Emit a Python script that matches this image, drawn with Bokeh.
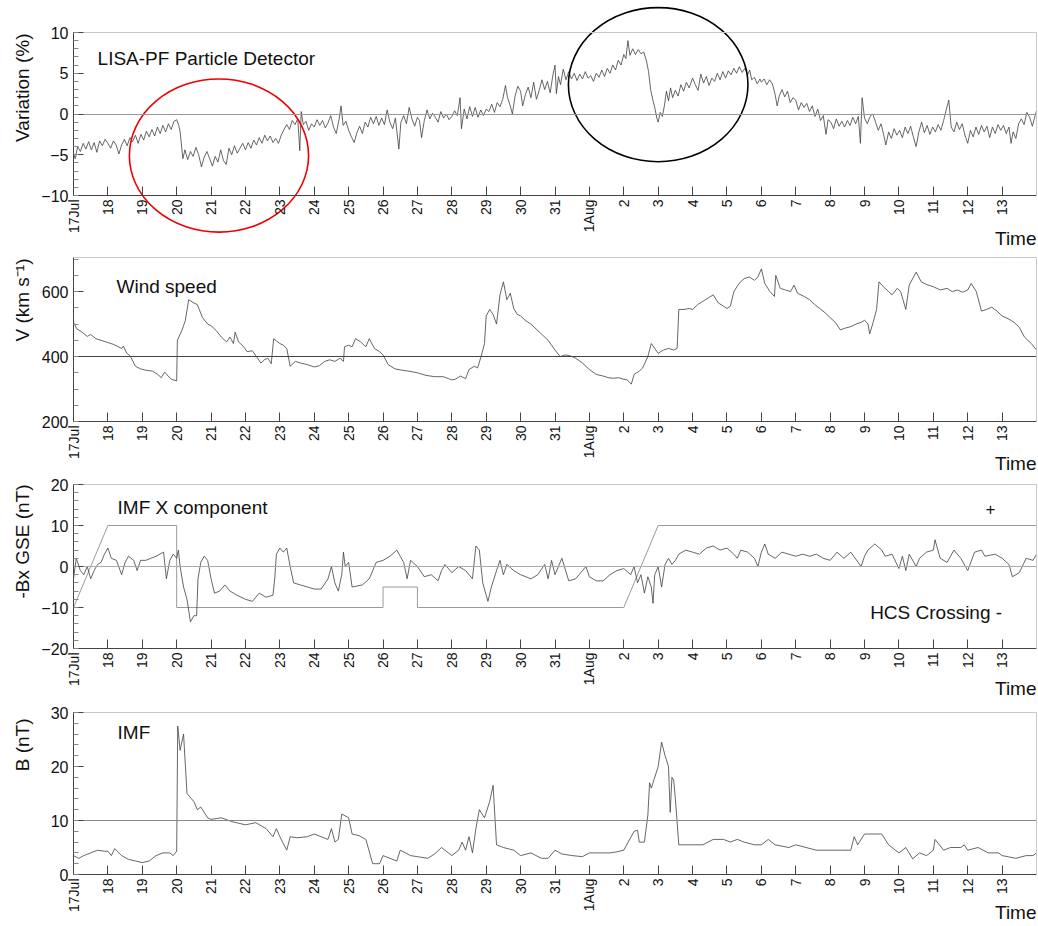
import math
from bokeh.plotting import figure
from bokeh.layouts import column
from bokeh.models import Range1d, FixedTicker, SingleIntervalTicker, Label, LinearAxis
from bokeh.embed import file_html
from bokeh.resources import INLINE

FONT = "Liberation Sans"

# ---------------- data (days since 17 Jul) ----------------
day_ticks = list(range(28))
day_labels = ["17Jul"] + [str(d) for d in range(18, 32)] + ["1Aug"] + [str(d) for d in range(2, 14)]

var_t = [0.00,0.05,0.12,0.20,0.28,0.36,0.44,0.52,0.60,0.68,0.76,0.84,0.92,1.00,1.08,1.16,1.24,1.32,1.40,1.48,
         1.56,1.64,1.72,1.80,1.88,1.96,2.04,2.12,2.20,2.28,2.36,2.44,2.52,2.60,2.68,2.76,2.84,2.92,3.00,3.06,
         3.10,3.14,3.18,3.24,3.32,3.40,3.48,3.56,3.64,3.72,3.80,3.88,3.96,4.04,4.12,4.20,4.28,4.36,4.44,4.52,
         4.60,4.68,4.76,4.84,4.92,5.00,5.08,5.16,5.24,5.32,5.40,5.48,5.56,5.64,5.72,5.80,5.88,5.96,6.04,6.12,
         6.20,6.28,6.36,6.44,6.52,6.58,6.62,6.68,6.76,6.84,6.92,7.00,7.08,7.16,7.24,7.32,7.40,7.48,7.56,7.64,
         7.72,7.78,7.84,7.92,8.00,8.08,8.16,8.24,8.32,8.40,8.48,8.56,8.64,8.72,8.80,8.88,8.96,9.04,9.12,9.20,
         9.28,9.36,9.46,9.52,9.60,9.68,9.76,9.84,9.92,10.00,10.06,10.12,10.20,10.28,10.36,10.44,10.52,10.60,10.68,10.76,
         10.84,10.92,11.00,11.08,11.16,11.24,11.28,11.36,11.44,11.52,11.60,11.68,11.76,11.84,11.92,12.00,12.08,12.16,12.24,12.32,
         12.40,12.48,12.56,12.62,12.70,12.76,12.84,12.92,13.00,13.06,13.14,13.22,13.30,13.38,13.46,13.54,13.62,13.70,13.78,13.86,
         13.94,14.00,14.04,14.10,14.16,14.24,14.32,14.40,14.48,14.56,14.64,14.72,14.80,14.88,14.96,15.04,15.12,15.20,15.28,15.36,
         15.44,15.52,15.60,15.68,15.76,15.84,15.92,16.00,16.06,16.12,16.18,16.26,16.34,16.42,16.50,16.58,16.66,16.72,16.78,16.84,
         16.90,16.96,17.00,17.06,17.12,17.18,17.24,17.30,17.36,17.42,17.50,17.58,17.66,17.74,17.82,17.90,18.00,18.08,18.16,18.24,
         18.32,18.40,18.48,18.56,18.64,18.72,18.80,18.88,18.96,19.04,19.12,19.20,19.28,19.36,19.44,19.52,19.60,19.66,19.72,19.80,
         19.88,19.96,20.00,20.08,20.16,20.24,20.32,20.40,20.46,20.52,20.60,20.68,20.76,20.84,20.92,21.00,21.08,21.16,21.24,21.32,
         21.40,21.48,21.56,21.64,21.72,21.80,21.88,21.94,22.02,22.10,22.18,22.26,22.34,22.42,22.50,22.58,22.66,22.74,22.82,22.88,
         22.93,23.00,23.08,23.16,23.24,23.32,23.40,23.48,23.56,23.62,23.70,23.78,23.86,23.94,24.02,24.10,24.18,24.26,24.34,24.42,
         24.50,24.58,24.66,24.74,24.82,24.90,24.98,25.06,25.14,25.22,25.30,25.38,25.45,25.52,25.60,25.68,25.76,25.84,25.92,26.00,
         26.08,26.16,26.24,26.32,26.40,26.48,26.56,26.64,26.72,26.80,26.88,26.96,27.04,27.12,27.20,27.26,27.32,27.40,27.48,27.56,
         27.64,27.72,27.80,27.88,27.96,28.00]
var_v = [-4.8,-5.5,-4.0,-4.6,-3.6,-4.3,-3.4,-4.4,-3.5,-4.7,-3.3,-3.9,-3.1,-3.6,-4.2,-3.3,-3.8,-4.9,-3.8,-3.1,
         -3.9,-2.9,-3.4,-2.6,-3.6,-2.5,-3.2,-2.1,-2.8,-1.9,-2.7,-1.6,-2.4,-1.4,-2.2,-1.2,-1.9,-0.9,-0.7,-1.4,
         -2.2,-3.8,-5.5,-4.4,-5.6,-4.6,-5.2,-4.1,-5.0,-6.5,-5.3,-4.6,-5.5,-6.4,-5.2,-5.9,-4.4,-5.7,-6.2,-4.2,
         -5.0,-3.9,-4.8,-4.2,-3.6,-4.4,-3.5,-4.2,-3.2,-3.8,-2.9,-3.6,-2.6,-3.3,-2.7,-3.5,-3.0,-3.6,-2.6,-1.9,
         -1.3,-1.9,-0.8,-1.3,-0.6,-4.5,0.3,-1.3,-0.9,-2.0,-1.2,-1.6,-0.7,-1.4,-0.8,-1.7,-1.1,-0.2,-1.6,-2.4,
         -0.7,1.0,-1.4,-0.9,-2.0,-2.8,-3.5,-2.3,-1.5,-2.4,-1.0,-1.6,-0.4,-1.2,-0.3,-1.4,-0.5,-1.3,0.5,-1.0,
         -1.8,-0.5,-4.3,-1.0,-0.2,-1.2,0.8,-0.6,-1.5,-0.4,-0.8,-2.9,-0.8,0.5,-0.6,0.1,-0.4,-1.0,0.3,-0.5,
         0.0,-0.7,-0.3,0.4,-0.2,2.0,-1.8,0.6,-0.6,0.9,-0.3,0.8,-0.4,0.5,-0.2,0.6,0.3,1.2,0.2,1.4,
         0.9,1.8,3.5,2.0,1.0,0.0,2.2,3.4,2.8,1.0,2.4,3.3,2.0,3.9,1.8,2.9,4.2,3.0,4.0,2.6,
         4.8,6.0,2.5,4.6,3.6,5.5,4.2,5.2,4.3,5.0,4.1,4.9,4.3,5.2,4.4,4.7,4.0,5.0,4.5,5.4,
         4.6,5.6,5.0,6.0,5.4,6.6,6.0,7.3,6.8,9.0,7.2,8.0,7.3,7.9,7.4,7.6,6.5,5.2,3.0,1.8,
         0.8,-0.5,-1.0,0.2,-0.3,1.0,2.8,1.6,3.2,2.0,2.9,2.2,3.6,2.8,3.9,3.2,4.4,3.6,2.9,4.9,
         3.8,4.6,3.5,4.4,4.0,5.0,4.2,5.2,4.4,5.3,4.8,5.6,5.0,5.8,5.1,5.6,4.8,5.4,4.2,4.5,
         3.7,4.3,3.9,4.3,3.6,4.2,3.7,2.4,1.0,2.2,3.0,2.1,2.8,1.4,2.0,1.7,0.5,1.4,0.8,1.3,
         0.3,1.0,-0.3,0.6,-0.8,-0.2,-2.5,-0.7,-1.0,-1.8,-0.6,-1.5,-0.9,-1.6,-0.8,-1.4,-0.4,-1.2,-0.3,-3.6,
         2.0,-0.5,-1.2,-0.3,0.0,-1.0,-2.0,-1.2,-2.6,-3.8,-2.2,-3.0,-1.8,-2.6,-2.0,-2.9,-1.6,-2.4,-1.5,-2.8,
         -4.0,-2.2,-1.0,-2.3,-1.4,-2.5,-1.6,-2.2,-1.3,-2.0,-0.8,0.6,1.7,-1.6,-2.2,-1.0,-1.9,-1.2,-2.6,-3.6,
         -2.0,-2.8,-1.6,-2.5,-1.4,-2.2,-1.5,-2.9,-1.6,-2.4,-1.3,-2.0,-1.4,-2.4,-1.6,-3.6,-2.2,-3.0,-1.2,-0.6,
         -1.3,0.2,-0.4,-1.5,-0.2,0.4]

wind_t = [0.00,0.10,0.25,0.40,0.50,0.65,0.80,1.00,1.15,1.30,1.40,1.45,1.55,1.65,1.80,1.95,2.10,2.30,2.45,2.55,
          2.65,2.75,2.85,3.00,3.02,3.15,3.25,3.35,3.50,3.60,3.75,3.90,4.00,4.15,4.30,4.45,4.55,4.65,4.70,4.80,
          4.95,5.05,5.20,5.35,5.45,5.55,5.65,5.75,5.82,5.90,6.00,6.10,6.20,6.30,6.45,6.60,6.80,7.00,7.15,7.30,
          7.45,7.60,7.75,7.85,7.88,8.00,8.10,8.20,8.35,8.50,8.60,8.75,8.90,9.00,9.15,9.35,9.55,9.75,10.00,10.25,
          10.50,10.75,10.90,11.00,11.10,11.25,11.40,11.50,11.65,11.75,11.85,11.95,12.00,12.10,12.20,12.30,12.40,12.50,12.60,12.70,
          12.80,12.90,13.00,13.15,13.30,13.45,13.60,13.80,14.00,14.15,14.30,14.45,14.60,14.80,15.00,15.20,15.40,15.55,15.70,15.85,
          16.00,16.10,16.22,16.30,16.45,16.55,16.70,16.80,16.90,17.00,17.15,17.30,17.45,17.55,17.60,17.75,17.90,18.00,18.15,18.30,
          18.45,18.60,18.75,18.90,19.00,19.10,19.20,19.35,19.50,19.65,19.80,19.90,20.00,20.10,20.25,20.38,20.42,20.55,20.70,20.85,
          20.95,21.05,21.25,21.40,21.55,21.70,21.85,22.00,22.15,22.30,22.45,22.60,22.75,22.90,23.00,23.10,23.15,23.25,23.35,23.42,
          23.55,23.70,23.80,23.95,24.05,24.20,24.30,24.50,24.65,24.80,25.00,25.20,25.40,25.55,25.70,25.85,26.00,26.10,26.25,26.40,
          26.55,26.70,26.85,27.00,27.20,27.35,27.50,27.65,27.85,28.00]
wind_v = [505,485,475,462,468,455,450,443,438,430,425,432,410,402,370,362,358,355,345,335,
          352,340,330,325,450,480,510,575,565,560,520,500,495,480,460,445,460,440,475,445,
          430,415,418,395,380,390,395,378,455,448,440,435,425,370,385,380,375,368,372,385,
          390,385,395,385,430,435,430,455,445,430,455,425,415,405,375,362,358,355,350,342,
          338,338,332,328,330,340,332,360,370,365,400,440,525,545,530,500,590,630,575,595,
          548,530,525,510,500,485,470,450,420,400,405,402,395,380,360,345,340,335,333,335,
          330,328,315,345,355,365,400,440,425,410,420,425,420,425,545,545,548,545,560,570,
          580,590,565,555,548,555,600,625,640,645,635,645,670,625,600,585,650,610,605,600,
          620,595,585,575,560,548,535,520,505,482,488,492,500,505,512,500,470,505,545,630,
          615,600,590,610,600,545,620,660,630,622,615,605,610,600,605,598,605,625,600,540,
          545,552,540,525,515,505,490,460,440,420]

bx_t = [0.00,0.08,0.20,0.30,0.40,0.50,0.60,0.70,0.80,0.90,1.00,1.10,1.25,1.40,1.50,1.60,1.75,1.85,1.95,2.10,
        2.25,2.40,2.55,2.62,2.70,2.80,2.90,3.00,3.05,3.10,3.20,3.30,3.40,3.50,3.58,3.62,3.70,3.80,3.90,4.00,
        4.10,4.25,4.40,4.55,4.75,5.00,5.20,5.40,5.60,5.80,5.85,5.90,6.00,6.10,6.20,6.30,6.40,6.60,6.80,7.00,
        7.20,7.40,7.50,7.60,7.70,7.80,7.85,7.90,8.00,8.10,8.40,8.60,8.80,9.00,9.20,9.40,9.50,9.60,9.70,9.80,
        10.00,10.20,10.40,10.60,10.70,10.80,11.00,11.20,11.40,11.50,11.60,11.70,11.80,11.90,12.00,12.05,12.15,12.30,12.40,12.50,
        12.60,12.80,13.00,13.30,13.50,13.70,13.80,13.90,14.00,14.20,14.40,14.60,14.80,14.90,15.00,15.20,15.40,15.60,15.80,16.00,
        16.20,16.30,16.40,16.50,16.60,16.70,16.80,16.85,16.90,17.00,17.10,17.20,17.30,17.40,17.50,17.60,17.80,18.00,18.20,18.40,
        18.60,18.80,19.00,19.20,19.30,19.40,19.60,19.80,19.90,20.00,20.10,20.20,20.40,20.60,20.80,21.00,21.20,21.40,21.60,21.80,
        22.00,22.20,22.40,22.60,22.90,23.00,23.10,23.30,23.50,23.60,23.80,24.00,24.10,24.20,24.30,24.50,24.60,24.80,25.00,25.05,
        25.20,25.40,25.60,25.80,26.00,26.20,26.40,26.50,26.80,27.00,27.20,27.30,27.50,27.70,27.90,28.00]
bx_v = [-3,2,-1,-2,0,-3,-1,0.5,1,3,4.5,2,1.5,-2,1,2.5,1.5,-1,1.5,1.5,
        2,2.5,3.2,3.5,-3,1.5,3,2,4,0,-5,-8,-13.5,-12,-12,-3,1,2.5,1.5,-3,
        -6.5,-6,-4.5,-6,-7,-8,-8.5,-6.5,-7.5,-7,-3,3,4.5,3.5,4.5,0,-4,-4.5,-5,-5.5,
        -5.5,-3,0,-4,-6,-2,3.5,0,1,-5,-4.5,-3,1,1.5,2.5,4,2.5,1,-3,1.5,
        0,-2.5,-2,-3.5,-1,0.5,-1.5,0,-1,-2,-3,5,4,-4,-7,-8.5,-5,-1,1.5,-2,
        0.5,-1,-2,-3,-2,0.5,-3,1.5,-2,2,-3.5,-3,-1,0,-2.5,-3.5,-3.5,-2,-1,-0.5,
        -2,0,-4,-2,-6.5,-2.5,-5,-9,-2,0,-5,0.5,2,0.5,1.5,3,4,3.5,3,4.5,
        5,4,4.5,3,2,4,3.5,2,0,3.5,5.5,3,2,3.5,3,2.5,3,2.5,3,2,
        1.5,3.5,2,3.5,0,2.5,4,5.5,4,2.5,3,-0.5,2.5,-1,3,0,2,3.5,4,6.5,
        2,1,4,2,-1,3.5,4,2.5,3,2,0.5,-2.5,-1.5,2,1.5,3]

hcs_t = [0, 1, 3, 3, 9, 9, 10, 10, 16, 17, 28]
hcs_v = [-10, 10, 10, -10, -10, -5, -5, -10, -10, 10, 10]

imf_t = [0.00,0.15,0.30,0.50,0.70,0.90,1.00,1.10,1.20,1.40,1.60,1.80,2.00,2.20,2.40,2.60,2.80,2.90,3.00,3.03,
         3.10,3.20,3.30,3.50,3.60,3.70,3.90,4.00,4.30,4.60,5.00,5.30,5.60,5.80,5.90,6.00,6.20,6.30,6.50,6.80,
         7.00,7.20,7.40,7.50,7.60,7.70,7.80,8.00,8.10,8.30,8.50,8.70,8.90,9.00,9.20,9.40,9.50,9.80,10.00,10.30,
         10.50,10.70,10.90,11.00,11.20,11.30,11.40,11.50,11.60,11.70,11.80,11.95,12.10,12.20,12.30,12.50,12.80,13.00,13.30,13.60,
         13.80,14.00,14.20,14.50,14.80,15.00,15.30,15.60,15.80,16.00,16.30,16.40,16.45,16.60,16.70,16.75,16.80,17.00,17.10,17.20,
         17.30,17.35,17.40,17.45,17.50,17.60,17.80,18.00,18.30,18.60,18.90,19.10,19.30,19.50,19.80,20.00,20.20,20.40,20.80,21.00,
         21.30,21.60,22.00,22.30,22.60,22.70,22.80,23.00,23.30,23.50,23.70,24.00,24.20,24.40,24.60,24.80,25.00,25.05,25.30,25.50,
         25.80,25.90,26.00,26.30,26.60,26.90,27.00,27.40,27.70,27.90,28.00]
imf_v = [3.5,3,3.5,4,4.5,4.3,4.3,3.5,4.8,3.5,2.8,2.5,2.2,2.5,3.5,4,4,3.5,4.3,27.5,
         23,26,15,13.5,12,12.5,10.5,10.2,10.5,9.8,9.2,9.6,8.5,7,8.5,7,4.5,7,6.8,7,
         7.5,7,6.5,8.5,6,6.5,11.2,10.5,7.5,7.2,6.5,2,2,3.5,3,2.5,4.5,3.5,3.3,3,
         3.8,5,4,3.5,4.5,6,4.5,7,4,8.5,12,10.5,13.5,16.5,5.5,5,4.5,3.5,4,3,
         3,4.5,3.8,3.5,3.3,4,4,4,4.2,4.5,8,8.2,6,6,11,17,16,20,24.5,22,
         20,11.5,18,17.5,14,5.5,5.5,5.5,5.5,6.5,6.5,6,6.5,6,5.5,5.5,6.5,5.5,5,5.5,
         5,4.5,4.5,4.5,4.5,7,5.5,7.5,7.5,7.5,5.5,4,5,2.9,4,3.5,4.5,6.5,4.5,5,
         5,5.5,4.5,5,4,4,3.5,3,3.5,3.5,4]

# highlighted regions in the detector panel
ell_x = [4.23, 17.0]
ell_y = [-5.1, 3.6]
ell_w = [5.21, 5.22]
ell_h = [18.8, 18.9]
ell_c = ["#ee0000", "#000000"]

# ---------------- layout constants (pixels) ----------------
W = 1038
FRAME_L, FRAME_R = 73, 1036
S = (FRAME_R - FRAME_L) / 28.0
AX = "#444444"
BORDER = "#c8c8c8"
LINE = "#404040"
TXT = "#111111"


def blank_axis(loc, bounds, color, width=1):
    return LinearAxis(fixed_location=loc, bounds=bounds, ticker=FixedTicker(ticks=[]),
                      axis_line_color=color, axis_line_width=width,
                      major_tick_line_color=None, minor_tick_line_color=None,
                      major_label_text_font_size="0px")


def make_panel(lo, hi, top_px, bot_px, H, interval, nminor, ylabel, ylabel_drop, title, title_xy,
               ref, ref_color, time_off):
    u = (hi - lo) / float(bot_px - top_px)
    yr = Range1d(lo - (H - bot_px) * u, hi + top_px * u)
    xr = Range1d(-FRAME_L / S, 28 + (W - FRAME_R) / S)
    p = figure(width=W, height=H, x_range=xr, y_range=yr, output_backend="svg",
               toolbar_location=None, min_border=0, min_border_left=0, min_border_right=0,
               min_border_top=0, min_border_bottom=0)
    p.xgrid.visible = False
    p.ygrid.visible = False
    p.outline_line_color = None
    p.background_fill_color = "white"
    p.border_fill_color = "white"

    xa = p.xaxis[0]
    xa.fixed_location = lo
    xa.bounds = (0, 28)
    xa.ticker = FixedTicker(ticks=day_ticks)
    xa.major_label_overrides = {i: lab for i, lab in zip(day_ticks, day_labels)}
    xa.major_label_orientation = math.pi / 2
    xa.major_label_text_font = FONT
    xa.major_label_text_font_size = "14px"
    xa.major_label_text_color = TXT
    xa.major_label_standoff = 4
    xa.major_tick_in = 9
    xa.major_tick_out = 0
    xa.minor_tick_line_color = None
    xa.axis_line_color = AX
    xa.major_tick_line_color = AX

    ya = p.yaxis[0]
    ya.fixed_location = 0
    ya.bounds = (lo, hi)
    ya.ticker = SingleIntervalTicker(interval=interval, num_minor_ticks=nminor)
    ya.major_label_text_font = FONT
    ya.major_label_text_font_size = "16px"
    ya.major_label_text_color = TXT
    ya.major_label_standoff = 5
    ya.major_tick_in = 10
    ya.major_tick_out = 0
    ya.minor_tick_in = 5
    ya.minor_tick_out = 0
    ya.axis_line_color = AX
    ya.major_tick_line_color = AX
    ya.minor_tick_line_color = "#888888"

    # frame top / right border and horizontal reference line
    p.add_layout(blank_axis(hi, (0, 28), BORDER), "above")
    p.add_layout(blank_axis(28, (lo, hi), BORDER), "right")
    p.add_layout(blank_axis(ref, (0, 28), ref_color), "below")

    # y-axis title, aligned to the top of the axis
    p.add_layout(Label(x=22, x_units="screen", y=hi, y_offset=-ylabel_drop, text=ylabel,
                       angle=math.pi / 2, text_font=FONT, text_font_size="19px",
                       text_align="right", text_baseline="middle", text_color=TXT))
    # panel title
    p.add_layout(Label(x=title_xy[0], y=title_xy[1], text=title, text_font=FONT,
                       text_font_size="19px", text_baseline="middle", text_color=TXT))
    # "Time"
    p.add_layout(Label(x=28, y=lo, text="Time", text_font=FONT, text_font_size="19px",
                       text_align="right", text_baseline="alphabetic", x_offset=0,
                       y_offset=-time_off, text_color=TXT))
    return p


# Panel 1: particle detector (figure spans window rows 0-249)
p1 = make_panel(-10, 10, 32, 195, 249, 5, 5, "Variation (%)", 1, "LISA-PF Particle Detector",
                (0.70, 6.8), 0, "#999999", 43)
p1.line(var_t, var_v, line_color=LINE, line_width=0.8)
p1.ellipse(x=ell_x, y=ell_y, width=ell_w, height=ell_h, fill_color=None,
           line_color=ell_c, line_width=1.6)

# Panel 2: wind speed (rows 249-476)
p2 = make_panel(200, 705, 8, 172, 227, 200, 4, "V (km s\u207b\u00b9)", 1, "Wind speed",
                (1.25, 616), 400, "#444444", 42)
p2.line(wind_t, wind_v, line_color=LINE, line_width=0.8)

# Panel 3: IMF X component (rows 476-704)
p3 = make_panel(-20, 20, 8, 172, 228, 10, 5, "-Bx GSE (nT)", 0, "IMF X component",
                (1.28, 14.4), 0, "#aaaaaa", 40)
p3.line(hcs_t, hcs_v, line_color="#9a9a9a", line_width=1)
p3.line(bx_t, bx_v, line_color=LINE, line_width=0.8)
p3.add_layout(Label(x=26.66, y=14.1, text="+", text_font=FONT, text_font_size="17px",
                    text_align="center", text_baseline="middle", text_color=TXT))
p3.add_layout(Label(x=27.0, y=-11.2, text="HCS Crossing -", text_font=FONT, text_font_size="19px",
                    text_align="right", text_baseline="middle", text_color=TXT))

# Panel 4: IMF magnitude (rows 704-926)
p4 = make_panel(0, 30, 8, 170, 222, 10, 5, "B (nT)", 6, "IMF", (1.28, 26.3), 10, "#888888", 38)
p4.line(imf_t, imf_v, line_color=LINE, line_width=0.8)

layout = column(p1, p2, p3, p4, spacing=0)
open("out.html", "w").write(file_html(layout, INLINE))
